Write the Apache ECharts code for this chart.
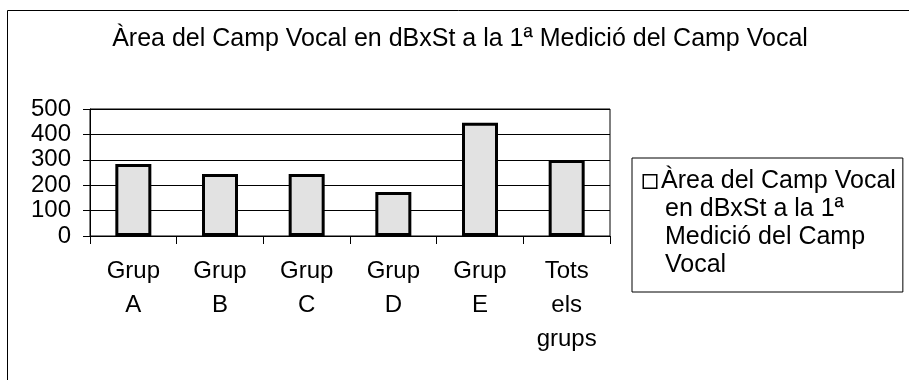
<!DOCTYPE html>
<html>
<head>
<meta charset="utf-8">
<script src="https://cdn.jsdelivr.net/npm/echarts@6/dist/echarts.min.js"></script>
<style>
  html, body { margin: 0; padding: 0; background: #fff; }
  #main { width: 909px; height: 380px; }
</style>
</head>
<body>
<div id="main"></div>
<script>
// data
let categories = ['Grup\nA', 'Grup\nB', 'Grup\nC', 'Grup\nD', 'Grup\nE', 'Tots\nels\ngrups'];
let values = [283, 244, 244, 173, 446, 299];
let seriesName = 'Àrea del Camp Vocal en dBxSt a la 1ª Medició del Camp Vocal';
let legendLines = ['Àrea del Camp Vocal', 'en dBxSt a la 1ª', 'Medició del Camp', 'Vocal'];

let font = '"Liberation Sans", Arial, sans-serif';
let myChart = echarts.init(document.getElementById('main'));

let option = {
  backgroundColor: '#fff',
  animation: false,
  title: {
    text: 'Àrea del Camp Vocal en dBxSt a la 1ª Medició del Camp Vocal',
    left: 455,
    top: 22,
    textAlign: 'center',
    textStyle: { fontFamily: font, fontSize: 25, fontWeight: 'normal', color: '#000' }
  },
  graphic: [{
    type: 'rect',
    shape: { x: 7.5, y: 10.5, width: 920, height: 400 },
    style: { fill: 'none', stroke: '#000', lineWidth: 1 },
    silent: true
  }],
  legend: {
    left: 632,
    top: 158,
    orient: 'vertical',
    icon: 'none',
    itemWidth: 0,
    itemHeight: 0,
    borderColor: '#000',
    borderWidth: 1,
    padding: [11, 7, 14, 7],
    data: [seriesName],
    formatter: function() {
      return legendLines.map(function(l, i) {
        return (i == 0 ? '{box|}' : '{sp|}') + '{t|' + l + '}';
      }).join('\n');
    },
    textStyle: {
      rich: {
        box: { width: 12, height: 12, borderColor: '#000', borderWidth: 1.5, backgroundColor: '#fff' },
        sp: { width: 16 },
        t: { fontFamily: font, fontSize: 25, color: '#000', lineHeight: 28, padding: [0, 0, 0, 5] }
      }
    }
  },
  grid: {
    left: 90, right: 299, top: 109, bottom: 144,
    show: true, borderColor: '#000', borderWidth: 1
  },
  xAxis: {
    type: 'category',
    data: categories,
    axisLine: { lineStyle: { color: '#000', width: 1 } },
    axisTick: { show: true, length: 8, lineStyle: { color: '#000' } },
    axisLabel: { fontFamily: font, fontSize: 24, color: '#000', lineHeight: 34, margin: 18, interval: 0 }
  },
  yAxis: {
    type: 'value',
    min: 0,
    max: 500,
    interval: 100,
    axisLine: { show: true, lineStyle: { color: '#000', width: 1 } },
    axisTick: { show: true, length: 7, lineStyle: { color: '#000' } },
    splitLine: { lineStyle: { color: '#000', width: 1 } },
    axisLabel: { fontFamily: font, fontSize: 24, color: '#000', margin: 19 }
  },
  series: [{
    name: seriesName,
    type: 'bar',
    data: values,
    barWidth: 36,
    itemStyle: {
      color: '#e2e2e2',
      borderColor: '#000',
      borderWidth: 3
    }
  }]
};
myChart.setOption(option);
</script>
</body>
</html>
